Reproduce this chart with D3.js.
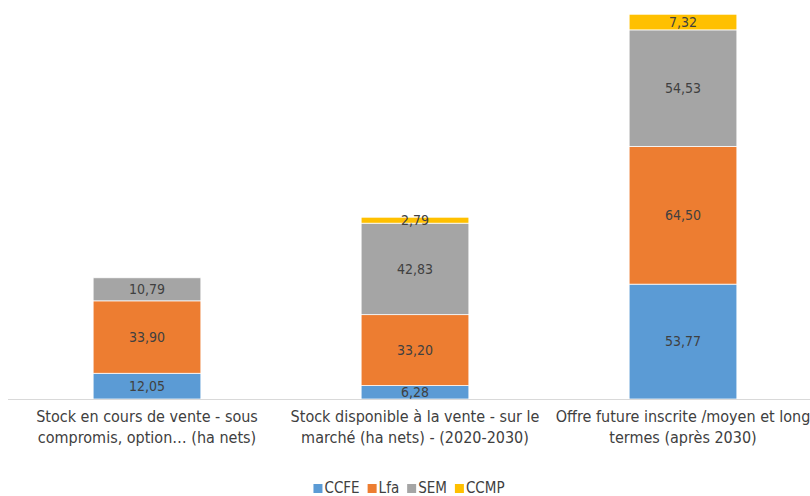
<!DOCTYPE html>
<html>
<head>
<meta charset="utf-8">
<script src="https://cdn.jsdelivr.net/npm/d3@7"></script>
<style>
  html, body { margin: 0; padding: 0; background: #fff; }
  svg { display: block; }
  text { font-family: "Liberation Sans Narrow", "DejaVu Sans Condensed", Roboto, sans-serif; }
</style>
</head>
<body>
<svg id="chart" width="810" height="496"></svg>
<script>
// Surfaces par catégorie d'offre (ha nets), empilées par porteur
const categories = [
  ["Stock en cours de vente - sous", "compromis, option… (ha nets)"],
  ["Stock disponible à la vente - sur le", "marché (ha nets) - (2020-2030)"],
  ["Offre future inscrite /moyen et long", "termes (après 2030)"]
];
const seriesNames = ["CCFE", "Lfa", "SEM", "CCMP"];
const seriesColors = ["#5B9BD5", "#ED7D31", "#A5A5A5", "#FFC000"];
const CCFE = [12.05, 6.28, 53.77];
const Lfa  = [33.90, 33.20, 64.50];
const SEM  = [10.79, 42.83, 54.53];
const CCMP = [null, 2.79, 7.32];

const seriesValues = [CCFE, Lfa, SEM, CCMP];
const rows = categories.map((c, i) => {
  const r = { key: i };
  seriesNames.forEach((s, j) => { r[s] = seriesValues[j][i] || 0; });
  return r;
});

const svg = d3.select("#chart");
const baseY = 399;

const x = d3.scaleBand()
  .domain(d3.range(categories.length))
  .range([13, 817])
  .padding(0);
const y = d3.scaleLinear().domain([0, 180]).range([baseY, 14.5]);

const barW = x.bandwidth() * 0.402;
const stack = d3.stack().keys(seriesNames);
const layers = stack(rows);

const fmt = v => d3.format(".2f")(v).replace(".", ",");

layers.forEach((layer, j) => {
  const g = svg.append("g");
  layer.forEach((d, i) => {
    const v = seriesValues[j][i];
    if (v == null) return;
    const cx = x(i) + x.bandwidth() / 2;
    g.append("rect")
      .attr("x", cx - barW / 2)
      .attr("y", y(d[1]))
      .attr("width", barW)
      .attr("height", y(d[0]) - y(d[1]))
      .attr("fill", seriesColors[j])
      .attr("stroke", "#fff")
      .attr("stroke-width", 0.75);
  });
});

// axe horizontal
svg.append("line")
  .attr("x1", 8).attr("x2", 810)
  .attr("y1", baseY + 0.5).attr("y2", baseY + 0.5)
  .attr("stroke", "#d9d9d9").attr("stroke-width", 1);

// étiquettes de valeurs
layers.forEach((layer, j) => {
  layer.forEach((d, i) => {
    const v = seriesValues[j][i];
    if (v == null) return;
    const cx = x(i) + x.bandwidth() / 2;
    svg.append("text")
      .attr("x", cx)
      .attr("y", (y(d[0]) + y(d[1])) / 2)
      .attr("dy", "0.35em")
      .attr("text-anchor", "middle")
      .attr("font-size", 14)
      .attr("fill", "#404040")
      .text(fmt(v));
  });
});

// libellés de catégories
categories.forEach((lines, i) => {
  const cx = x(i) + x.bandwidth() / 2;
  lines.forEach((t, k) => {
    svg.append("text")
      .attr("x", cx)
      .attr("y", 422 + k * 21)
      .attr("text-anchor", "middle")
      .attr("font-size", 16)
      .attr("fill", "#404040")
      .text(t);
  });
});

// légende
const legend = svg.append("g");
let lx = 0;
seriesNames.forEach((s, j) => {
  const it = legend.append("g").attr("transform", `translate(${lx},0)`);
  it.append("rect").attr("x", 0).attr("y", -9).attr("width", 9).attr("height", 9)
    .attr("fill", seriesColors[j]);
  const t = it.append("text").attr("x", 11).attr("y", 0)
    .attr("font-size", 15).attr("fill", "#404040").text(s);
  lx += 11 + t.node().getComputedTextLength() + 8;
});
const legW = lx - 8;
legend.attr("transform", `translate(${405 - legW / 2 + 4},493)`);
</script>
</body>
</html>
